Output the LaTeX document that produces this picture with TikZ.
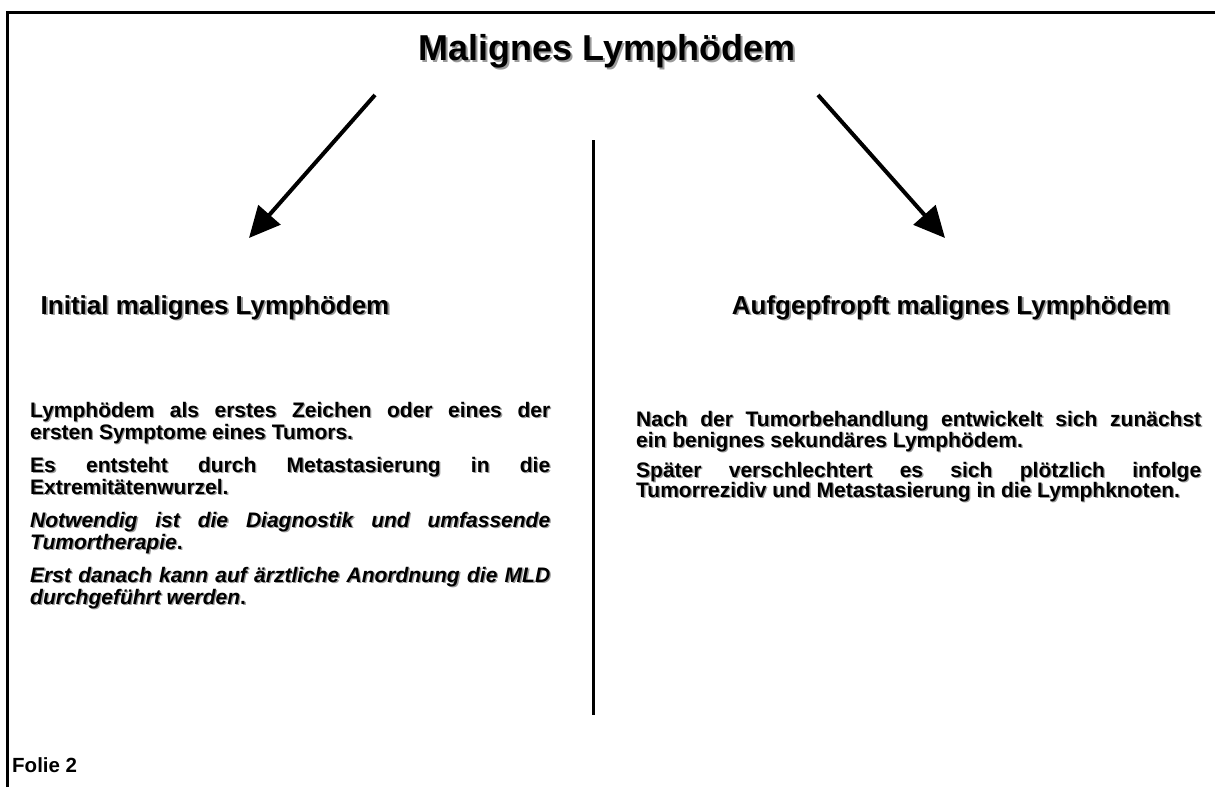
\documentclass[tikz,border=0pt]{standalone}
\usepackage{fontspec}
\setmainfont{Liberation Sans}
\usetikzlibrary{arrows.meta}
\definecolor{shade}{HTML}{9A9A9A}
\tikzset{
  frame/.style={line width=3pt},
  divider/.style={line width=3pt},
  arrowline/.style={line width=4pt, -{Triangle[length=31pt,width=29pt]}},
  titletext/.style={inner sep=0pt, anchor=base, font=\bfseries\fontsize{36}{40}\selectfont},
  subhead/.style={inner sep=0pt, anchor=base, font=\bfseries\fontsize{26}{30}\selectfont},
  txt/.style={inner sep=0pt, anchor=base west, font=\bfseries\fontsize{21}{24}\selectfont},
  foot/.style={inner sep=0pt, anchor=base west, font=\bfseries\fontsize{20.5}{24}\selectfont},
}
\newcommand\shnode[5]{% name, position, style, shadow offset, text
  \node[#3, text=shade, xshift=#4, yshift=-#4] at #2 {#5};
  \node[#3] (#1) at #2 {#5};}
\newcommand\jline[5]{% name, x, y, width, text
  \shnode{#1}{(#2,#3)}{txt}{1.3pt}{\makebox[#4][s]{#5}}}
\newcommand\pline[4]{% name, x, y, text
  \shnode{#1}{(#2,#3)}{txt}{1.3pt}{#4}}
\begin{document}
\begin{tikzpicture}[x=1pt,y=-1pt]
\useasboundingbox (0,0) rectangle (1215,787);
% frame
\draw[frame] (7,787) -- (7,12) -- (1216,12);
% title
\shnode{title}{(607,60)}{titletext}{2pt}{Malignes Lymphödem}
% arrows
\coordinate (a1s) at (375,95);
\coordinate (a1e) at (249,238);
\coordinate (a2s) at (818,95);
\coordinate (a2e) at (945,238);
\draw[arrowline] (a1s) -- (a1e);
\draw[arrowline] (a2s) -- (a2e);
% divider
\coordinate (d1) at (593,140);
\coordinate (d2) at (593,715);
\draw[divider] (d1) -- (d2);
% subheadings
\shnode{sl}{(215,314)}{subhead}{1.8pt}{Initial malignes Lymphödem}
\shnode{sr}{(951,314)}{subhead}{1.8pt}{Aufgepfropft malignes Lymphödem}
% left column
\jline{l1}{30}{417}{520pt}{Lymphödem als erstes Zeichen oder eines der}
\pline{l2}{30}{439}{ersten Symptome eines Tumors.}
\jline{l3}{30}{472}{520pt}{Es entsteht durch Metastasierung in die}
\pline{l4}{30}{494}{Extremitätenwurzel.}
\jline{l5}{30}{527}{520pt}{\itshape Notwendig ist die Diagnostik und umfassende}
\pline{l6}{30}{549}{{\itshape Tumortherapie}.}
\jline{l7}{30}{582}{520pt}{\itshape Erst danach kann auf ärztliche Anordnung die MLD}
\pline{l8}{30}{604}{{\itshape durchgeführt werden}.}
% right column
\jline{r1}{636}{426}{565pt}{Nach der Tumorbehandlung entwickelt sich zunächst}
\pline{r2}{636}{447}{ein benignes sekundäres Lymphödem.}
\jline{r3}{636}{477}{565pt}{Später verschlechtert es sich plötzlich infolge}
\pline{r4}{636}{497}{Tumorrezidiv und Metastasierung in die Lymphknoten.}
% footer
\node[foot] (folie) at (12,772) {Folie 2};
\end{tikzpicture}
\end{document}
